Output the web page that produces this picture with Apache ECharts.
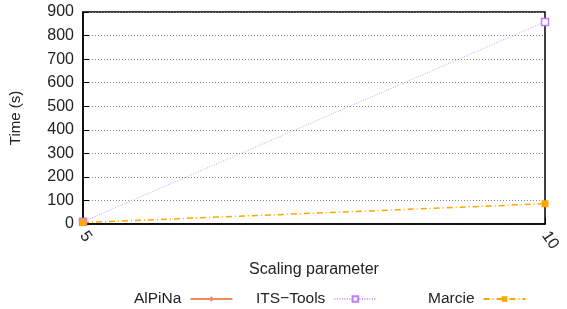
<!DOCTYPE html>
<html>
<head>
<meta charset="UTF-8">
<script src="https://cdn.jsdelivr.net/npm/echarts@6/dist/echarts.min.js"></script>
</head>
<body style="margin:0">
<div id="chart" style="width:567px;height:309px"></div>
<script>
var xTicks = [5, 10];
var alpinaData = [[5, 8]];
var itsData = [[5, 10], [10, 858]];
var marcieData = [[5, 6], [10, 86]];

var chart = echarts.init(document.getElementById('chart'));
var font = 'Liberation Sans, Arial, sans-serif';
function lg(name, left) {
    return {
        data: [name], left: left, top: 286, align: 'right',
        itemWidth: 42, itemHeight: 7, itemGap: 0,
        textStyle: { fontFamily: font, fontSize: 15.5, color: '#222', padding: [0, 4, 0, 0] }
    };
}
chart.setOption({
    animation: false,
    grid: { left: 83, right: 22, top: 12, bottom: 85, show: true, borderColor: '#000', borderWidth: 1.5 },
    xAxis: {
        type: 'value', min: 5, max: 10, interval: 5,
        name: 'Scaling parameter', nameLocation: 'middle', nameGap: 38,
        nameTextStyle: { fontFamily: font, fontSize: 16, color: '#222' },
        axisLine: { lineStyle: { color: '#000', width: 1.5 } },
        axisTick: { inside: true, length: 6, lineStyle: { color: '#000' } },
        axisLabel: { rotate: -55, fontFamily: font, fontSize: 16, color: '#222', margin: 9,
            formatter: function (v) { return xTicks.indexOf(v) >= 0 ? v : ''; } },
        splitLine: { show: false }
    },
    yAxis: {
        type: 'value', min: 0, max: 900, interval: 100,
        name: 'Time (s)', nameLocation: 'middle', nameGap: 60,
        nameTextStyle: { fontFamily: font, fontSize: 15, color: '#222' },
        axisLine: { lineStyle: { color: '#000', width: 1.5 } },
        axisTick: { inside: true, length: 6, lineStyle: { color: '#000' } },
        axisLabel: { fontFamily: font, fontSize: 16, color: '#222', margin: 9 },
        splitLine: { lineStyle: { color: '#888', type: [1, 2], width: 1 } }
    },
    legend: [lg('AlPiNa', 129), lg('ITS\u2212Tools', 251), lg('Marcie', 423)],
    series: [
        { name: 'AlPiNa', type: 'line', data: alpinaData, symbol: 'diamond', symbolSize: 7,
          lineStyle: { color: '#f58a62', width: 1.5 }, itemStyle: { color: '#f58a62' } },
        { name: 'ITS\u2212Tools', type: 'line', data: itsData, symbol: 'rect', symbolSize: 7,
          lineStyle: { color: '#c89cff', width: 1, type: [1, 1.5] },
          itemStyle: { color: '#fff', borderColor: '#c07cff', borderWidth: 1.5 } },
        { name: 'Marcie', type: 'line', data: marcieData, symbol: 'rect', symbolSize: 7,
          lineStyle: { color: '#ffa500', width: 1.5, type: [6, 3, 1, 3] },
          itemStyle: { color: '#ffa500' } }
    ]
});
</script>
</body>
</html>
